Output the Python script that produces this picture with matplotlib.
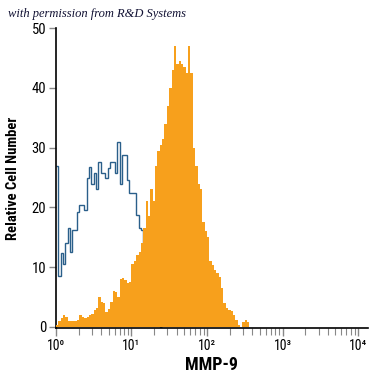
import matplotlib
matplotlib.use('Agg')
import matplotlib.pyplot as plt
import numpy as np

# channels: 32 per decade, starting at 10^0
chan_per_decade = 32

mmp9 = [0.3, 1.0, 1.5, 2.0, 1.6, 1.0, 1.0, 1.0, 1.0, 1.2,
        2.0, 1.6, 1.5, 1.6, 2.0, 2.2, 2.8, 3.2, 5.0, 4.2,
        4.0, 2.5, 3.0, 4.2, 6.0, 5.8, 5.0, 8.0, 8.2, 7.8,
        7.3, 7.5, 10.5, 11.0, 12.0, 12.5, 14.0, 16.5, 21.0, 18.5,
        23.0, 21.0, 27.0, 29.5, 30.5, 31.5, 34.0, 37.0, 40.0, 43.0,
        47.0, 44.0, 44.5, 44.0, 43.5, 42.5, 47.0, 42.5, 30.0, 27.0,
        24.0, 23.0, 17.5, 16.0, 15.0, 11.0, 10.4, 9.5, 9.0, 8.4,
        6.5, 4.0, 3.2, 2.8, 2.6, 2.0, 1.2, 0.3, 0.0, 0.8,
        1.2, 0.8, 0.0]

isotype = [27.0, 8.5, 12.4, 10.5, 14.0, 16.5, 12.5, 16.2, 16.2, 19.2,
           20.4, 20.4, 19.6, 25.0, 26.8, 24.0, 25.8, 23.0, 27.6, 25.8,
           25.8, 25.0, 26.6, 27.6, 27.6, 25.8, 31.0, 24.0, 28.8, 28.8,
           24.6, 22.4, 22.4, 22.4, 18.7, 16.5, 16.2, 14.0, 11.0, 8.0,
           6.0, 4.0, 2.0, 1.0, 0.0]

yticks = [0, 10, 20, 30, 40, 50]
xticks = [1, 10, 100, 1000, 10000]
xlabels = ['10⁰', '10¹', '10²', '10³', '10⁴']

plt.rcParams['font.family'] = ['Roboto Condensed', 'DejaVu Sans']

fig = plt.figure(figsize=(3.75, 3.75), dpi=100)
ax = fig.add_axes([0.149, 0.125, 0.832, 0.80])

e1 = 10 ** (np.arange(len(mmp9) + 1) / chan_per_decade)
e2 = 10 ** (np.arange(len(isotype) + 1) / chan_per_decade)

ax.stairs(isotype, e2, baseline=None, color='#2a5f8a', lw=1.0, zorder=2)
ax.stairs(mmp9, e1, fill=True, color='#f7a01c', zorder=3)

ax.set_xscale('log')
ax.set_xlim(1, 10 ** 4.13)
ax.set_ylim(-0.2, 50)

ax.spines['top'].set_visible(False)
ax.spines['right'].set_visible(False)
ax.spines['left'].set_linewidth(1.2)
ax.spines['bottom'].set_linewidth(1.2)

ax.set_yticks(yticks)
ax.set_yticklabels([str(v) for v in yticks], fontsize=10.5)
ax.set_xticks(xticks)
ax.set_xticklabels(xlabels, fontsize=10)
ax.tick_params(axis='both', which='both', color='#888888', direction='out', pad=2)
ax.tick_params(axis='y', length=5, width=1)
ax.tick_params(axis='x', which='major', length=6, width=1)
ax.tick_params(axis='x', which='minor', length=5, width=0.8)
ax.xaxis.set_minor_locator(matplotlib.ticker.LogLocator(base=10, subs=np.arange(2, 10)))
ax.xaxis.set_minor_formatter(matplotlib.ticker.NullFormatter())

ax.set_ylabel('Relative Cell Number', fontsize=10.5, fontweight='bold', labelpad=8)
ax.set_xlabel('MMP-9', fontsize=13, fontweight='bold', labelpad=2)

fig.text(0.022, 0.955, 'with permission from R&D Systems', fontsize=9,
         family=['Liberation Serif', 'DejaVu Serif'], style='italic', color='#111133')

fig.savefig('out.png', dpi=100, facecolor='white')
